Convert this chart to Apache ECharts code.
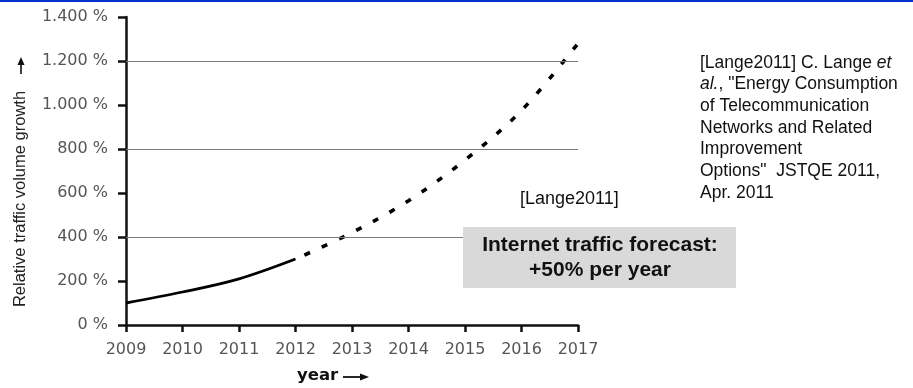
<!DOCTYPE html>
<html>
<head>
<meta charset="utf-8">
<script src="https://cdn.jsdelivr.net/npm/echarts@6/dist/echarts.min.js"></script>
<style>
  html, body { margin: 0; padding: 0; background: #fff; }
  #chart { width: 913px; height: 388px; }
</style>
</head>
<body>
<div id="chart"></div>
<script>
// Measured traffic growth (solid) and the forecast continuation (dashed)
const measuredYears = [2009, 2010, 2011, 2012];
const measuredValues = [100, 150, 210, 300];
const forecastYears = [2012, 2013, 2014, 2015, 2016, 2017];
const forecastValues = [300, 420, 565, 750, 975, 1280];
// Horizontal reference lines
const gridValues = [400, 800, 1200];

const AXIS_FONT = 'DejaVu Sans';
const TEXT_FONT = 'Liberation Sans, Arial, sans-serif';

function pct(v) {
  const s = String(v);
  const withDots = s.length > 3 ? s.slice(0, s.length - 3) + '.' + s.slice(-3) : s;
  return withDots + ' %';
}

const chart = echarts.init(document.getElementById('chart'), null, { renderer: 'canvas' });

chart.setOption({
  animation: false,
  backgroundColor: '#ffffff',
  grid: { left: 126, right: 335, top: 17, bottom: 63, containLabel: false },
  xAxis: {
    type: 'value',
    min: 2009,
    max: 2017,
    interval: 1,
    axisLine: { show: true, onZero: false, lineStyle: { color: '#111', width: 2.5 } },
    axisTick: { show: true, inside: false, length: 7, lineStyle: { color: '#111', width: 2.5 } },
    axisLabel: {
      margin: 17,
      color: '#555',
      fontFamily: AXIS_FONT,
      fontSize: 16,
      formatter: v => String(v)
    },
    splitLine: { show: false }
  },
  yAxis: {
    type: 'value',
    min: 0,
    max: 1400,
    interval: 200,
    axisLine: { show: true, onZero: false, lineStyle: { color: '#111', width: 2.5 } },
    axisTick: { show: true, inside: false, length: 8, lineStyle: { color: '#111', width: 2.5 } },
    axisLabel: {
      margin: 18,
      color: '#555',
      fontFamily: AXIS_FONT,
      fontSize: 16,
      formatter: v => pct(v)
    },
    splitLine: { show: false }
  },
  series: [
    {
      name: 'measured',
      type: 'line',
      data: measuredYears.map((y, i) => [y, measuredValues[i]]),
      smooth: 0.35,
      showSymbol: false,
      lineStyle: { color: '#000', width: 2.8 },
      z: 3,
      markLine: {
        silent: true,
        symbol: 'none',
        label: { show: false },
        lineStyle: { color: '#7a7a7a', width: 1.2, type: 'solid' },
        data: gridValues.map(v => ({ yAxis: v }))
      }
    },
    {
      name: 'forecast',
      type: 'line',
      data: forecastYears.map((y, i) => [y, forecastValues[i]]),
      smooth: 0.35,
      showSymbol: false,
      lineStyle: { color: '#000', width: 3.6, type: [6, 13], dashOffset: -10 },
      z: 3
    }
  ],
  graphic: [
    // slide header rule
    { type: 'rect', left: 0, top: 0, shape: { width: 913, height: 2 }, style: { fill: '#0033cc' }, z: 10 },
    // y axis title and arrow
    {
      type: 'text', x: 20, y: 199, rotation: Math.PI / 2,
      style: {
        text: 'Relative traffic volume growth',
        fill: '#222', font: '16.5px ' + TEXT_FONT,
        align: 'center', verticalAlign: 'middle'
      }, z: 10
    },
    { type: 'line', shape: { x1: 21, y1: 74, x2: 21, y2: 62 }, style: { stroke: '#111', lineWidth: 1.6 }, z: 10 },
    { type: 'polygon', shape: { points: [[21, 57], [17.5, 65], [24.5, 65]] }, style: { fill: '#111' }, z: 10 },
    // x axis title and arrow
    {
      type: 'text', x: 297, y: 376,
      style: {
        text: 'year', fill: '#111', font: 'bold 16.5px ' + AXIS_FONT,
        align: 'left', verticalAlign: 'middle'
      }, z: 10
    },
    { type: 'line', shape: { x1: 343, y1: 377, x2: 362, y2: 377 }, style: { stroke: '#111', lineWidth: 1.8 }, z: 10 },
    { type: 'polygon', shape: { points: [[369, 377], [360, 373.5], [360, 380.5]] }, style: { fill: '#111' }, z: 10 },
    // source tag
    {
      type: 'text', x: 520, y: 199,
      style: {
        text: '[Lange2011]', fill: '#111', font: '18px ' + TEXT_FONT,
        align: 'left', verticalAlign: 'middle'
      }, z: 10
    },
    // forecast callout
    { type: 'rect', left: 463, top: 227, shape: { width: 273, height: 61 }, style: { fill: '#d9d9d9' }, z: 10 },
    {
      type: 'text', x: 600, y: 258,
      style: {
        text: 'Internet traffic forecast:\n+50% per year',
        fill: '#111', font: 'bold 21px ' + TEXT_FONT,
        lineHeight: 25, align: 'center', verticalAlign: 'middle'
      }, z: 11
    },
    // reference
    {
      type: 'text', x: 700, y: 52,
      style: {
        text: '[Lange2011] C. Lange {i|et}\n{i|al.}, "Energy Consumption\nof Telecommunication\nNetworks and Related\nImprovement\nOptions"  JSTQE 2011,\nApr. 2011',
        fill: '#111', font: '17.5px ' + TEXT_FONT,
        lineHeight: 21.7, align: 'left', verticalAlign: 'top',
        rich: {
          i: { fontStyle: 'italic', fontSize: 17.5, fontFamily: TEXT_FONT, lineHeight: 21.7, fill: '#111' }
        }
      }, z: 10
    }
  ]
});
</script>
</body>
</html>
